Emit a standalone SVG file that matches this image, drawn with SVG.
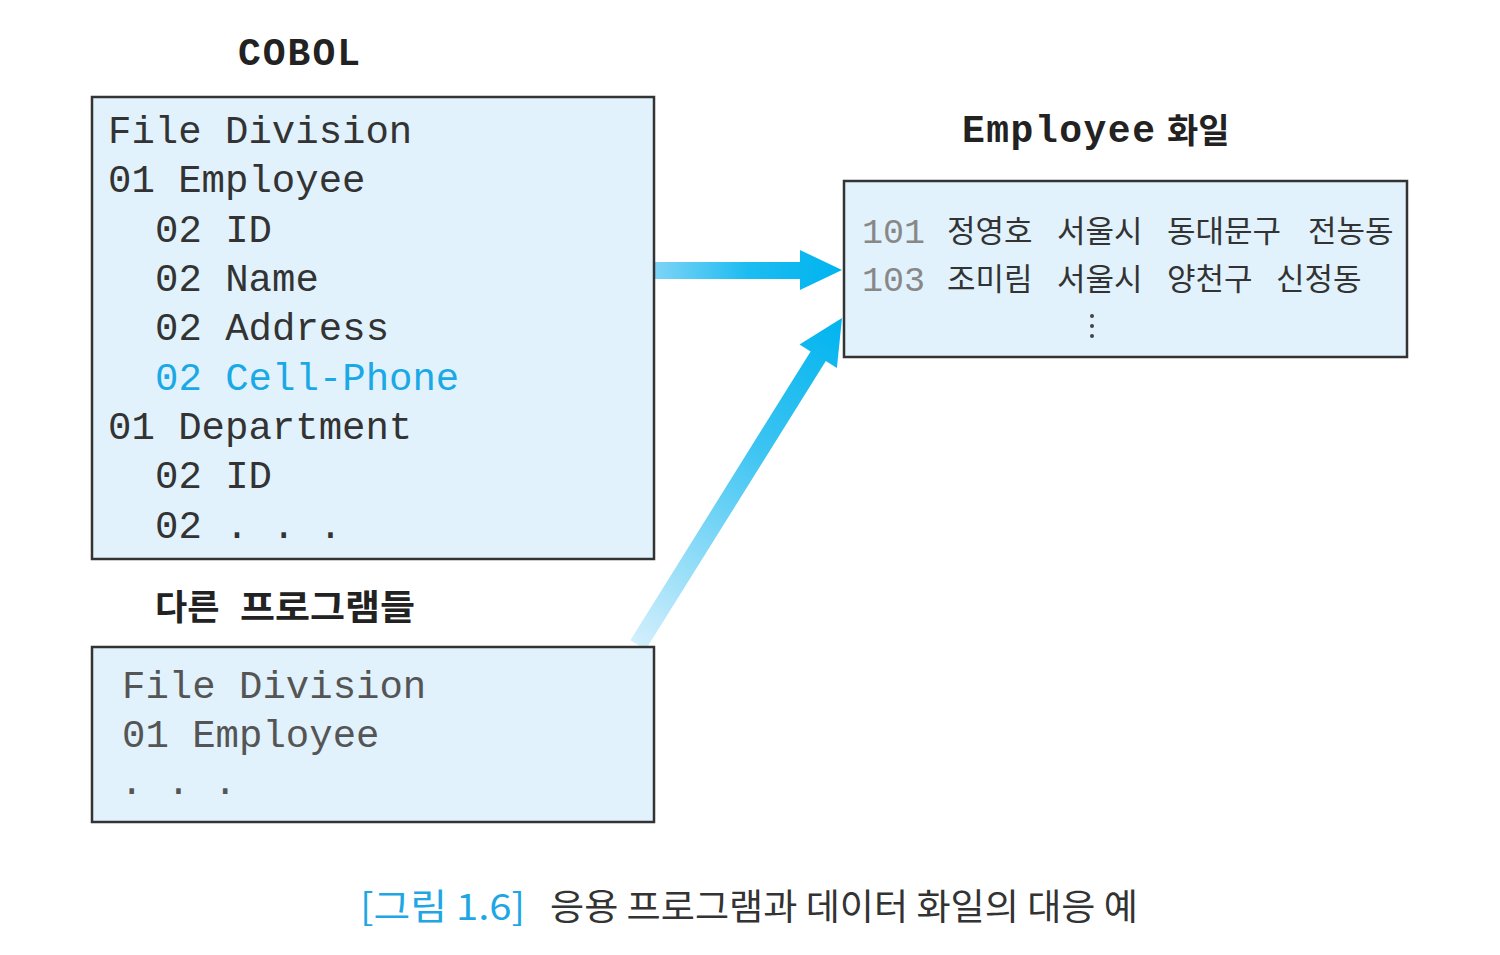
<svg xmlns="http://www.w3.org/2000/svg" width="1500" height="955" viewBox="0 0 1500 955">
<defs>
<style>
.box{fill:#e1f2fc;stroke:#333;stroke-width:2.5}
.code{font-family:"Liberation Mono","Courier New",monospace;font-size:39px;fill:#333}
.code3{font-family:"Liberation Mono","Courier New",monospace;font-size:39px;fill:#555}
.title{font-family:"Liberation Mono","Courier New",monospace;font-size:38px;font-weight:bold;fill:#222}
.kt{font-family:"Noto Sans CJK KR",sans-serif;font-weight:bold;fill:#222}
.rec{font-family:"Noto Sans CJK KR",sans-serif;font-size:31px;fill:#333}
.num{font-family:"Liberation Mono",monospace;font-size:35px;fill:#888}
.cap{font-family:"Noto Sans CJK KR",sans-serif;font-size:36px;fill:#333}
</style>
<linearGradient id="gh" gradientUnits="userSpaceOnUse" x1="654" y1="0" x2="842" y2="0">
<stop offset="0" stop-color="#7fd4f6"/><stop offset="0.5" stop-color="#1cbcf1"/><stop offset="1" stop-color="#00b4ef"/>
</linearGradient>
<linearGradient id="gd" gradientUnits="userSpaceOnUse" x1="638" y1="645" x2="842" y2="318">
<stop offset="0" stop-color="#d2effc"/><stop offset="0.6" stop-color="#3cc4f2"/><stop offset="1" stop-color="#00b4ef"/>
</linearGradient>
</defs>
<rect width="1500" height="955" fill="#fff"/>

<g id="connectors">
<polygon fill="url(#gh)" points="654,262 800,262 800,250 842,270 800,290 800,279 654,279"/>
<polygon fill="url(#gd)" points="630.4,640.2 810.6,351.4 799.5,344.5 842,318 836.9,367.9 825.8,361 645.6,649.8"/>
</g>

<g id="cobol">
<text class="title" x="238" y="65" letter-spacing="2">COBOL</text>
<rect class="box" x="92" y="97" width="562" height="462"/>
<text class="code" x="108" y="143">File Division</text>
<text class="code" x="108" y="192">01 Employee</text>
<text class="code" x="155" y="242">02 ID</text>
<text class="code" x="155" y="291">02 Name</text>
<text class="code" x="155" y="340">02 Address</text>
<text class="code" x="155" y="390" fill="#1aa9e6" style="fill:#1aa9e6">02 Cell-Phone</text>
<text class="code" x="108" y="439">01 Department</text>
<text class="code" x="155" y="488">02 ID</text>
<text class="code" x="155" y="538">02 . . .</text>
</g>

<g id="employee-file">
<text class="title" x="962" y="142" letter-spacing="1.5">Employee</text>
<text class="kt" x="1167" y="143" font-size="34">화일</text>
<rect class="box" x="844" y="181" width="563" height="176"/>
<text class="num" x="862" y="243">101</text>
<text class="rec" y="242"><tspan x="947">정영호</tspan><tspan x="1057">서울시</tspan><tspan x="1167">동대문구</tspan><tspan x="1308">전농동</tspan></text>
<text class="num" x="862" y="291">103</text>
<text class="rec" y="290"><tspan x="947">조미림</tspan><tspan x="1057">서울시</tspan><tspan x="1167">양천구</tspan><tspan x="1276">신정동</tspan></text>
<circle cx="1092" cy="316" r="2" fill="#444"/>
<circle cx="1092" cy="326" r="2" fill="#444"/>
<circle cx="1092" cy="336" r="2" fill="#444"/>
</g>

<g id="other-programs">
<text class="kt" x="155" y="620" font-size="35">다른</text>
<text class="kt" x="240" y="620" font-size="35" textLength="175" lengthAdjust="spacingAndGlyphs">프로그램들</text>
<rect class="box" x="92" y="647" width="562" height="175"/>
<text class="code3" x="122" y="698">File Division</text>
<text class="code3" x="122" y="747">01 Employee</text>
<text class="code3" x="120" y="794">. . .</text>
</g>

<g id="caption">
<text class="cap" x="360" y="920" fill="#1ea7e4" style="fill:#1ea7e4" textLength="165" lengthAdjust="spacingAndGlyphs">[그림 1.6]</text>
<text class="cap" x="550" y="920" textLength="588" lengthAdjust="spacingAndGlyphs">응용 프로그램과 데이터 화일의 대응 예</text>
</g>
</svg>
